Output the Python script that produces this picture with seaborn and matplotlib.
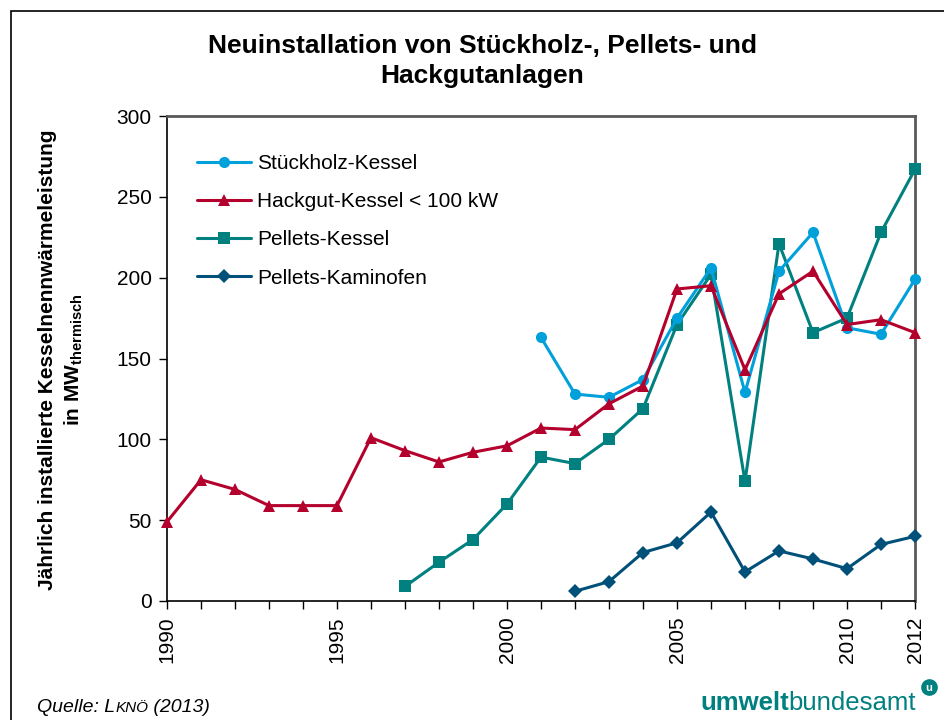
import matplotlib
matplotlib.use("Agg")
import matplotlib.pyplot as plt
import seaborn as sns
import pandas as pd
from matplotlib.patches import Rectangle
from matplotlib.lines import Line2D

sns.set_theme(style="white")
plt.rcParams['font.family'] = ['Liberation Sans', 'DejaVu Sans']
plt.rcParams['mathtext.fontset'] = 'custom'
plt.rcParams['mathtext.rm'] = 'Liberation Sans:bold'
plt.rcParams['mathtext.default'] = 'rm'
plt.rcParams['text.color'] = 'black'
plt.rcParams['axes.labelcolor'] = 'black'
plt.rcParams['xtick.color'] = 'black'
plt.rcParams['ytick.color'] = 'black'

years_hack = list(range(1990, 2013))
hackgut = [49, 75, 69, 59, 59, 59, 101, 93, 86, 92, 96, 107, 106, 122, 133,
           193, 195, 143, 190, 204, 171, 174, 166]
years_stueck = list(range(2001, 2013))
stueckholz = [163, 128, 126, 137, 175, 206, 129, 204, 228, 169, 165, 199]
years_pell = list(range(1997, 2013))
pellets = [9, 24, 38, 60, 89, 85, 100, 119, 171, 202, 74, 221, 166, 175, 228, 267]
years_kamin = list(range(2002, 2013))
kaminofen = [6, 12, 30, 36, 55, 18, 31, 26, 20, 35, 40]

series_names = ["Stückholz-Kessel", "Hackgut-Kessel < 100 kW", "Pellets-Kessel", "Pellets-Kaminofen"]
colors = ["#00A0DA", "#B4002C", "#00807E", "#00507A"]
markers = ["o", "^", "s", "D"]
msizes = [8, 9, 8, 7]

df = pd.concat([
    pd.DataFrame({"Jahr": years_stueck, "Wert": stueckholz, "Serie": series_names[0]}),
    pd.DataFrame({"Jahr": years_hack, "Wert": hackgut, "Serie": series_names[1]}),
    pd.DataFrame({"Jahr": years_pell, "Wert": pellets, "Serie": series_names[2]}),
    pd.DataFrame({"Jahr": years_kamin, "Wert": kaminofen, "Serie": series_names[3]}),
])

fig = plt.figure(figsize=(9.44, 7.2), dpi=100)
ax = fig.add_axes([167/944, 1-601/720, (915-167)/944, (601-116)/720])

order = [2, 3, 0, 1]
for i in order:
    sub = df[df["Serie"] == series_names[i]]
    sns.lineplot(data=sub, x="Jahr", y="Wert", ax=ax, color=colors[i], marker=markers[i],
                 markersize=msizes[i], markeredgewidth=0, linewidth=2.2, legend=False,
                 clip_on=False, zorder=3)

ax.set_xlim(1990, 2012)
ax.set_ylim(0, 300)
ax.set_yticks([0, 50, 100, 150, 200, 250, 300])
ax.set_xticks([1990, 1995, 2000, 2005, 2010, 2012])
ax.set_xticks(range(1990, 2013), minor=True)
ax.set_xticklabels(["1990", "1995", "2000", "2005", "2010", "2012"], rotation=90, fontsize=15)
ax.tick_params(axis='y', labelsize=15, direction='out', length=6, width=1, colors='black', left=True, pad=5)
ax.tick_params(axis='x', which='both', direction='out', length=6, width=1, bottom=True, colors='black', pad=5)
ax.set_xlabel("")
ax.set_ylabel("")
for s in ["left", "bottom"]:
    ax.spines[s].set_color("black")
    ax.spines[s].set_linewidth(1.2)
for s in ["top", "right"]:
    ax.spines[s].set_color("#5a5a5a")
    ax.spines[s].set_linewidth(2)

handles = [Line2D([], [], color=colors[i], marker=markers[i], markersize=msizes[i],
                  markeredgewidth=0, linewidth=2.2) for i in range(4)]
ax.legend(handles, series_names, loc="upper left", bbox_to_anchor=(0.015, 0.96), frameon=False,
          fontsize=15, handlelength=2.6, labelspacing=0.92, handletextpad=0.3,
          labelcolor="black")

fig.text(482/944, 1-61/720, "Neuinstallation von Stückholz-, Pellets- und\nHackgutanlagen",
         ha="center", va="center", fontsize=19, fontweight="bold", linespacing=1.3)

fig.text(48/944, 1-360/720, "Jährlich installierte Kesselnennwärmeleistung",
         rotation=90, ha="center", va="center", fontsize=15, fontweight="bold")
fig.text(74/944, 1-360/720, "in MW$_{thermisch}$",
         rotation=90, ha="center", va="center", fontsize=15, fontweight="bold")

fig.canvas.draw()
r = fig.canvas.get_renderer()

def chain(parts, x0, y, **common):
    x = x0
    for txt, kw in parts:
        t = fig.text(x / 944, 1 - y / 720, txt, ha="left", va="baseline", **common, **kw)
        bb = t.get_window_extent(renderer=r)
        x = bb.x1

chain([("Quelle: L", dict(fontsize=14)), ("KNÖ", dict(fontsize=11)), (" (2013)", dict(fontsize=14))],
      37, 712, style="italic")

chain([("umwelt", dict(fontsize=18.5, fontweight="bold")), ("bundesamt", dict(fontsize=18.5))],
      700, 710, color="#00807E")
fig.add_artist(Line2D([929/944], [1-687/720], marker="o", markersize=12, color="#00807E",
                      markeredgewidth=0, transform=fig.transFigure))
fig.text(929/944, 1-688/720, "u", ha="center", va="center", fontsize=8, color="white",
         fontweight="bold")

fig.patches.append(Rectangle((11/944, -0.05), 1.2, 1-11/720+0.05, transform=fig.transFigure,
                             fill=False, edgecolor="black", linewidth=1.2, zorder=0))

fig.savefig("out.png", dpi=100)
